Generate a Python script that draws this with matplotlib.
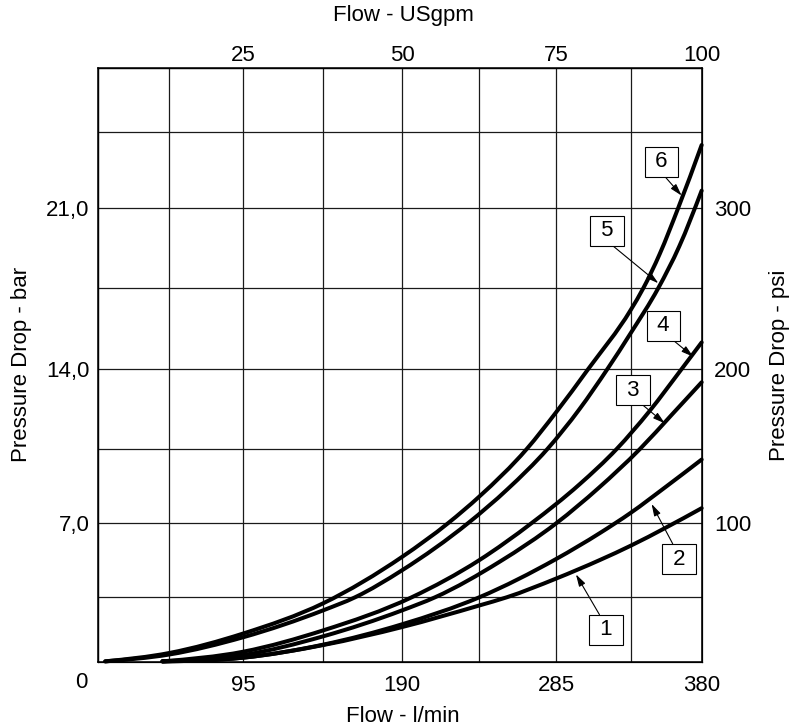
import numpy as np
import matplotlib
matplotlib.use("Agg")
import matplotlib.pyplot as plt
from matplotlib.path import Path
from matplotlib.patches import PathPatch
from matplotlib.transforms import IdentityTransform

plt.rcParams['font.family'] = ['Liberation Sans', 'DejaVu Sans']

# ---------------- data (flow l/min, pressure drop bar) ----------------
flow_1 = [43, 95, 142.5, 190, 237.5, 254.5, 285, 313, 332.5, 356, 380]
dp_1 = [0.05, 0.25, 0.93, 1.9, 3.06, 3.5, 4.38, 5.26, 5.93, 6.78, 7.7]

flow_2 = [43, 95, 142.5, 190, 237.5, 285, 313, 332.5, 356, 380]
dp_2 = [0.05, 0.25, 0.95, 2.05, 3.5, 5.3, 6.53, 7.48, 8.71, 10.0]

flow_3 = [43, 95, 142.5, 190, 210.2, 250, 285.4, 312, 338.7, 360, 380]
dp_3 = [0.05, 0.39, 1.4, 2.8, 3.5, 5.17, 7.0, 8.65, 10.5, 12.0, 13.42]

flow_4 = [43, 95, 142.5, 195.8, 237.5, 270, 300, 323.6, 345, 366.6, 380]
dp_4 = [0.05, 0.57, 1.72, 3.5, 5.25, 7.0, 8.83, 10.5, 12.15, 14.0, 15.15]

flow_5 = [5, 47.5, 95, 142.5, 161.6, 190, 230.7, 255, 279.7, 300, 317.7,
          332.5, 351, 365, 380]
dp_5 = [0.05, 0.42, 1.35, 2.8, 3.5, 4.78, 7.0, 8.6, 10.5, 12.25, 14.0,
        15.55, 17.5, 19.32, 21.8]

flow_6 = [5, 47.5, 95, 142.5, 190, 218.4, 237.5, 266.9, 285, 305.5, 332.5,
          341, 352, 364.3, 380]
dp_6 = [0.05, 0.5, 1.55, 3.18, 5.41, 7.0, 8.25, 10.5, 12.1, 14.0, 16.55,
        17.5, 19.0, 21.0, 23.9]

curves = [(flow_1, dp_1), (flow_2, dp_2), (flow_3, dp_3),
          (flow_4, dp_4), (flow_5, dp_5), (flow_6, dp_6)]

# curve labels: text, box centre (flow, bar), arrow tip (flow, bar), arrow start rel pos
curve_labels = ['1', '2', '3', '4', '5', '6']
label_box = [(316.8, 1.74), (364.8, 5.30), (334.0, 13.08),
             (354.6, 15.86), (317.4, 20.0), (353.0, 23.12)]
label_tip = [(297.7, 4.58), (346.5, 7.9), (355.4, 11.62),
             (374.4, 14.53), (351.0, 17.71), (366.6, 21.57)]
label_rel = [(0.35, 1.0), (0.35, 1.0), (0.68, 0.0),
             (0.7, 0.0), (0.52, 0.0), (0.5, 0.0)]

# axes
flow_max = 380
bar_max = 28
x_grid = np.arange(0, 380.1, 47.5)
y_grid = np.arange(0, 28.1, 3.5)
x_labels = ['', '', '95', '', '190', '', '285', '', '380']
y_labels = ['', '', '7,0', '', '14,0', '', '21,0', '', '']
top_ticks = [95, 190, 285, 380]
top_labels = ['25', '50', '75', '100']
psi_ticks = [7, 14, 21]
psi_labels = ['100', '200', '300']

# grid spacing of the printed chart is not perfectly even: relative grid positions
x_knot_frac = [0, .1185, .241, .3735, .5043, .6318, .7588, .8825, 1]
y_knot_frac = [0, .1094, .2345, .3591, .4937, .6301, .7648, .8928, 1]


def make_scale(vmax, fracs):
    d = np.concatenate([[-vmax], np.linspace(0, vmax, len(fracs)), [2 * vmax]])
    u = np.concatenate([[-vmax], np.asarray(fracs) * vmax, [2 * vmax]])

    def fwd(v):
        return np.interp(np.asarray(v, dtype=float), d, u)

    def inv(w):
        return np.interp(np.asarray(w, dtype=float), u, d)
    return fwd, inv


fx, fx_inv = make_scale(flow_max, x_knot_frac)
fy, fy_inv = make_scale(bar_max, y_knot_frac)


def smooth_path(pts):
    """Cubic Hermite (as Bezier) path through display-space points."""
    x = pts[:, 0]
    y = pts[:, 1]
    h = np.diff(x)
    s = np.diff(y) / h
    d = np.empty_like(y)
    d[1:-1] = (s[1:] * h[:-1] + s[:-1] * h[1:]) / (h[:-1] + h[1:])
    d[0] = (3 * s[0] - d[1]) / 2
    d[-1] = (3 * s[-1] - d[-2]) / 2
    verts = [(x[0], y[0])]
    codes = [Path.MOVETO]
    for i in range(len(h)):
        verts += [(x[i] + h[i] / 3, y[i] + d[i] * h[i] / 3),
                  (x[i + 1] - h[i] / 3, y[i + 1] - d[i + 1] * h[i] / 3),
                  (x[i + 1], y[i + 1])]
        codes += [Path.CURVE4] * 3
    return Path(verts, codes)


fig = plt.figure(figsize=(8.04, 7.25), dpi=100)
ax = fig.add_axes([0.1215, 0.0865, 0.7512, 0.8193])
ax.set_xscale('function', functions=(fx, fx_inv))
ax.set_yscale('function', functions=(fy, fy_inv))
ax.set_xlim(0, flow_max)
ax.set_ylim(0, bar_max)

ax.set_xticks(x_grid)
ax.set_xticklabels(x_labels)
ax.set_yticks(y_grid)
ax.set_yticklabels(y_labels)
ax.minorticks_off()
ax.tick_params(axis='both', length=0, labelsize=16)
ax.tick_params(axis='x', pad=9.5)
ax.tick_params(axis='y', pad=6)
ax.grid(True, color='#1a1a1a', linewidth=0.9)
ax.set_axisbelow(True)
for s in ax.spines.values():
    s.set_linewidth(1.1)

# right psi axis
axr = ax.twinx()
axr.set_yscale('function', functions=(fy, fy_inv))
axr.set_ylim(0, bar_max)
axr.set_yticks(psi_ticks)
axr.set_yticklabels(psi_labels)
axr.minorticks_off()
axr.tick_params(axis='y', length=0, labelsize=16, pad=9)

# top USgpm axis
axt = ax.twiny()
axt.set_xscale('function', functions=(fx, fx_inv))
axt.set_xlim(0, flow_max)
axt.set_xticks(top_ticks)
axt.set_xticklabels(top_labels)
axt.minorticks_off()
axt.tick_params(axis='x', length=0, labelsize=16, pad=1.5)

# curves: data points through the axes transform, smoothed in display space
for fl, dp in curves:
    pts = ax.transData.transform(np.column_stack([fl, dp]))
    patch = PathPatch(smooth_path(pts), fill=False, edgecolor='black',
                      linewidth=2.9, capstyle='round', joinstyle='round',
                      transform=IdentityTransform(), zorder=3)
    patch.set_clip_on(False)
    ax.add_artist(patch)

for txt, box, tip, rel in zip(curve_labels, label_box, label_tip, label_rel):
    ax.annotate(' ' + txt + ' ', xy=tip, xytext=box, fontsize=16,
                ha='center', va='center', zorder=5,
                bbox=dict(boxstyle='square,pad=0.2', fc='white', ec='black', lw=0.8),
                arrowprops=dict(arrowstyle='-|>,head_length=0.45,head_width=0.13',
                                color='black', lw=0.8, shrinkA=0, shrinkB=0,
                                relpos=rel))

# corner zero label
ax.annotate('0', xy=(0, 0), xytext=(-16.7, -20.7), textcoords='offset pixels',
            ha='center', va='center', fontsize=16, annotation_clip=False)

W, H = 804, 725
fig.text(403 / W, 1 - 721.5 / H, 'Flow - l/min', ha='center', va='baseline', fontsize=16)
fig.text(403 / W, 1 - 21 / H, 'Flow - USgpm', ha='center', va='baseline', fontsize=16)
fig.text(21.5 / W, 1 - 364 / H, 'Pressure Drop - bar', ha='center', va='center',
         rotation=90, fontsize=16)
fig.text(780 / W, 1 - 365 / H, 'Pressure Drop - psi', ha='center', va='center',
         rotation=90, fontsize=16)

fig.savefig('out.png', dpi=100)
